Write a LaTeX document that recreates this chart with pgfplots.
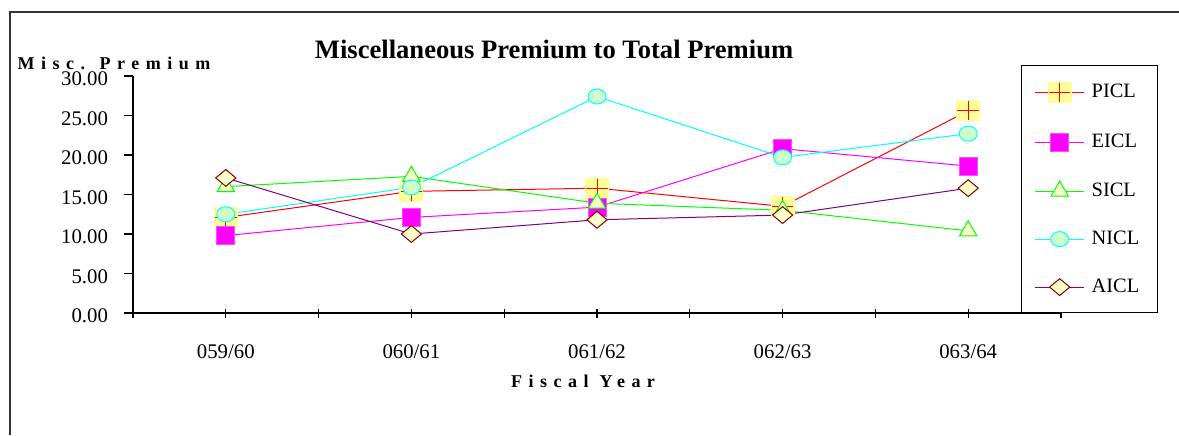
\documentclass[border=0pt]{standalone}
\usepackage{fontspec}
\setmainfont{Liberation Serif}
\newfontfamily\spacedfont[LetterSpace=36]{Liberation Serif}
\usepackage{pgfplots}
\pgfplotsset{compat=1.18}

\definecolor{picly}{HTML}{FFFF99}
\definecolor{cream}{HTML}{FFFFCC}
\definecolor{mint}{HTML}{CCFFCC}
\definecolor{picl}{HTML}{FF0000}
\definecolor{eicl}{HTML}{FF00FF}
\definecolor{sicl}{HTML}{00FF00}
\definecolor{nicl}{HTML}{00FFFF}
\definecolor{aicl}{HTML}{800080}
\definecolor{diam}{HTML}{800000}

% filled square (fill colour) with a plus on it (draw colour)
\pgfdeclareplotmark{sqplus}{%
  \pgfpathrectangle{\pgfqpoint{-\pgfplotmarksize}{-0.875\pgfplotmarksize}}{\pgfqpoint{2\pgfplotmarksize}{1.75\pgfplotmarksize}}%
  \pgfusepathqfill
  \pgfpathmoveto{\pgfqpoint{-0.9\pgfplotmarksize}{0pt}}\pgfpathlineto{\pgfqpoint{0.9\pgfplotmarksize}{0pt}}%
  \pgfpathmoveto{\pgfqpoint{0pt}{-0.8\pgfplotmarksize}}\pgfpathlineto{\pgfqpoint{0pt}{0.8\pgfplotmarksize}}%
  \pgfusepathqstroke}

\begin{document}
\begin{tikzpicture}
\useasboundingbox (0,0) rectangle (589.5pt,-217.5pt);
\draw[black!80, line width=0.8pt] (5pt,-217.5pt) -- (5pt,-6pt) -- (589.5pt,-6pt);

\begin{axis}[
  at={(66.5pt,-156.5pt)}, anchor=south west,
  scale only axis, width=464pt, height=118.5pt,
  xmin=-0.5, xmax=4.5, ymin=0, ymax=30,
  clip=false,
  axis x line*=bottom, axis y line*=left,
  xtick={0,...,4},
  xticklabels={059/60,060/61,061/62,062/63,063/64},
  minor xtick={-0.5,0.5,1.5,2.5,3.5,4.5},
  ytick={0,5,...,30},
  xtick align=center, ytick align=outside,
  major tick length=4.5pt, minor tick length=4.5pt,
  tick style={black, line width=0.6pt},
  axis line style={black, line width=0.6pt},
  ticklabel style={font=\fontsize{10.4}{12}\selectfont},
  yticklabel style={yshift=-1.5pt, /pgf/number format/.cd, fixed, fixed zerofill, precision=2, assume math mode=true},
  yticklabel shift=4.5pt,
  xticklabel shift=10pt,
  title={Miscellaneous Premium to Total Premium},
  title style={at={(axis description cs:0.4537,1.06)}, anchor=center, font=\fontsize{13.3}{15}\selectfont\bfseries},
  ylabel={Misc. Premium},
  ylabel style={rotate=-90, at={(axis description cs:-0.0205,1.055)}, anchor=center, font=\spacedfont\bfseries\fontsize{9}{11}\selectfont},
  xlabel={Fiscal Year},
  xlabel style={at={(axis description cs:0.485,-0.287)}, anchor=center, font=\spacedfont\bfseries\fontsize{9}{11}\selectfont},
  legend style={at={(axis description cs:0.957,1.046)}, anchor=north west,
    draw=black, line width=0.6pt, fill=white,
    font=\fontsize{10.2}{12}\selectfont,
    nodes={inner sep=0pt, text height=7pt, text depth=2pt},
    column sep=3.5pt, row sep=15pt,
    inner xsep=6.5pt, inner ysep=8.2pt},
  legend cell align=left,
  legend image code/.code={%
    \draw[mark repeat=2, mark phase=2, #1] plot coordinates {(0pt,0pt) (12.25pt,0pt) (24.5pt,0pt)};},
  every axis plot/.append style={line width=0.5pt},
]

\addplot[color=picl, mark=sqplus, mark size=6pt, mark options={fill=picly, draw=picl}]
  coordinates {(0,12.1) (1,15.4) (2,15.8) (3,13.5) (4,25.6)};

\addplot[color=eicl, mark=square*, mark size=4.5pt, mark options={fill=eicl, draw=eicl!70}]
  coordinates {(0,9.8) (1,12.1) (2,13.4) (3,20.8) (4,18.6)};

\addplot[color=sicl, mark=triangle*, mark size=5pt, mark options={fill=cream, draw=sicl}]
  coordinates {(0,16.0) (1,17.3) (2,13.9) (3,13.0) (4,10.4)};

\addplot[color=nicl, mark=*, mark size=3.75pt, mark options={fill=mint, draw=nicl, xscale=1.2}]
  coordinates {(0,12.5) (1,15.9) (2,27.4) (3,19.7) (4,22.7)};

\addplot[color=aicl, mark=diamond*, mark size=4.2pt, mark options={fill=cream, draw=diam, xscale=1.6}]
  coordinates {(0,17.1) (1,10.0) (2,11.8) (3,12.4) (4,15.8)};

\legend{\makebox[26.5pt][l]{PICL}, \makebox[26.5pt][l]{EICL}, \makebox[26.5pt][l]{SICL}, \makebox[26.5pt][l]{NICL}, \makebox[26.5pt][l]{AICL}}
\end{axis}
\end{tikzpicture}
\end{document}
